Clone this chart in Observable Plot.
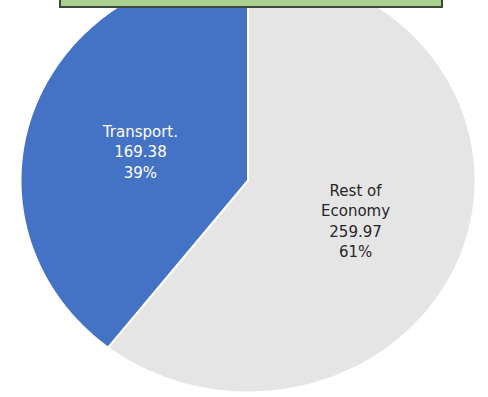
<!DOCTYPE html>
<html>
<head>
<meta charset="utf-8">
<script src="https://cdn.jsdelivr.net/npm/d3@7"></script>
<script src="https://cdn.jsdelivr.net/npm/@observablehq/plot@0.6"></script>
<style>
  html, body { margin: 0; padding: 0; background: #fff; }
  #wrap { position: relative; width: 488px; height: 397px; overflow: hidden; }
  #titlebox { position: absolute; left: 59px; top: -10px; width: 380px; height: 14px;
    background: #a9d08e; border: 2px solid #3d4a3b; }
</style>
</head>
<body>
<div id="wrap">
  <div id="chart"></div>
  <div id="titlebox"></div>
</div>
<script>
const categories = ["Rest of Economy", "Transport."];
const labelLines = [["Rest of", "Economy"], ["Transport."]];
const values = [259.97, 169.38];
const percents = ["61%", "39%"];
const colors = ["#e6e5e5", "#4472c4"];
const textColors = ["#262626", "#ffffff"];

const total = d3.sum(values);
// clockwise from 12 o'clock
let acc = 0;
const slices = values.map((v, i) => {
  const a0 = acc / total * 2 * Math.PI;
  acc += v;
  const a1 = acc / total * 2 * Math.PI;
  return {i, name: categories[i], a0, a1};
});

const pts = [];
for (const s of slices) {
  pts.push({slice: s.name, x: 0, y: 0});
  const n = 200;
  for (let k = 0; k <= n; k++) {
    const a = s.a0 + (s.a1 - s.a0) * k / n;
    pts.push({slice: s.name, x: Math.sin(a), y: Math.cos(a)});
  }
  pts.push({slice: s.name, x: 0, y: 0});
}

const labels = slices.map(s => {
  const am = (s.a0 + s.a1) / 2;
  const r = 0.5;
  return {
    slice: s.name,
    x: r * Math.sin(am),
    y: r * Math.cos(am),
    text: [...labelLines[s.i], values[s.i].toFixed(2), percents[s.i]].join("\n"),
    color: textColors[s.i]
  };
});

const plot = Plot.plot({
  width: 488,
  height: 397,
  margin: 0,
  x: {domain: [-1, 1], range: [20, 475], axis: null},
  y: {domain: [-1, 1], range: [392, -32], axis: null},
  color: {domain: categories, range: colors},
  style: {overflow: "hidden", background: "#fff"},
  marks: [
    Plot.line(pts, {x: "x", y: "y", z: "slice", fill: "slice", stroke: "#fff", strokeWidth: 2, curve: "linear"}),
    Plot.text(labels, {x: "x", y: "y", text: "text", fill: "color", fontSize: 15,
      fontFamily: "DejaVu Sans", lineHeight: 1.35, textAnchor: "middle", dy: 5})
  ]
});
document.getElementById("chart").appendChild(plot);
</script>
</body>
</html>
